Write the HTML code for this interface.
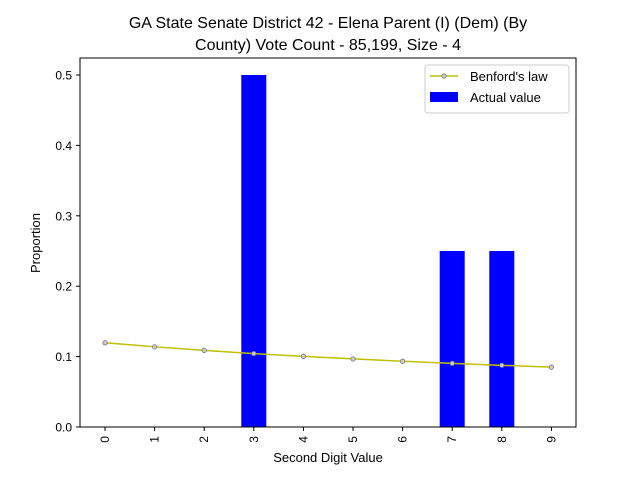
<!DOCTYPE html>
<html><head><meta charset="utf-8"><style>
body{margin:0;background:#fff;}
svg{font-family:"Liberation Sans","DejaVu Sans",sans-serif;}
</style></head><body>
<svg id="chart" width="640" height="480" xmlns="http://www.w3.org/2000/svg">
<rect width="640" height="480" fill="#fff"/>
<text x="328" y="28" font-size="16" text-anchor="middle">GA State Senate District 42 - Elena Parent (I) (Dem) (By</text>
<text x="328" y="50" font-size="16" text-anchor="middle">County) Vote Count - 85,199, Size - 4</text>
<g id="plot"></g>
<rect x="80" y="58" width="496" height="369" fill="none" stroke="#000" stroke-width="1"/>
<text x="328" y="462" font-size="13" text-anchor="middle">Second Digit Value</text>
<text transform="translate(40,243) rotate(-90)" font-size="13" text-anchor="middle">Proportion</text>
<g>
<rect x="425" y="65" width="144" height="48" rx="3" fill="#fff" stroke="#ccc"/>
<line x1="430" y1="76" x2="458" y2="76" stroke="#bfbf00" stroke-width="1.5"/>
<circle cx="444" cy="76" r="2.2" fill="#ccc" stroke="#777" stroke-width="0.8"/>
<text x="470" y="81" font-size="13">Benford's law</text>
<rect x="430" y="92" width="28" height="10" fill="#0000ff"/>
<text x="470" y="102" font-size="13">Actual value</text>
</g>
</svg>
<script>
const categories=["0","1","2","3","4","5","6","7","8","9"];
const actualValues=[0,0,0,0.5,0,0,0,0.25,0.25,0];
const benfordValues=[0.1197,0.1139,0.1088,0.1043,0.1003,0.0967,0.0934,0.0904,0.0876,0.0850];
const yTicks=[0,0.1,0.2,0.3,0.4,0.5];
const yTickLabels=["0.0","0.1","0.2","0.3","0.4","0.5"];
const NS="http://www.w3.org/2000/svg";
const g=document.getElementById('plot');
function xs(i){return 105+i*49.6;}
function ys(v){return 427-v*704;}
function mk(t,a){const e=document.createElementNS(NS,t);for(const k in a)e.setAttribute(k,a[k]);g.appendChild(e);return e;}
actualValues.forEach((v,i)=>{
 const r=mk('rect',{x:xs(i)-12.5,y:ys(v),width:25,height:ys(0)-ys(v),fill:'#0000ff'});
 
 
});
const pts=benfordValues.map((v,i)=>xs(i)+','+ys(v)).join(' ');
const pl=mk('polyline',{points:pts,fill:'none',stroke:'#bfbf00','stroke-width':1.5});


benfordValues.forEach((v,i)=>{
 const c=mk('circle',{cx:xs(i),cy:ys(v),r:2.2,fill:'#ccc',stroke:'#777','stroke-width':0.8});
 
 
});
categories.forEach((c,i)=>{
 const t=mk('line',{x1:xs(i),x2:xs(i),y1:427,y2:431,stroke:'#000'});
 
 
 const l=mk('text',{transform:`translate(${xs(i)+4},436) rotate(-90)`,'font-size':12,'text-anchor':'end'});
 l.textContent=c;
 
 
});
yTicks.forEach((v,i)=>{
 const t=mk('line',{x1:76,x2:80,y1:ys(v),y2:ys(v),stroke:'#000'});
 
 
 const l=mk('text',{x:72,y:ys(v)+4.5,'font-size':12,'text-anchor':'end'});
 l.textContent=yTickLabels[i];
 
 
});
</script>
</body></html>
